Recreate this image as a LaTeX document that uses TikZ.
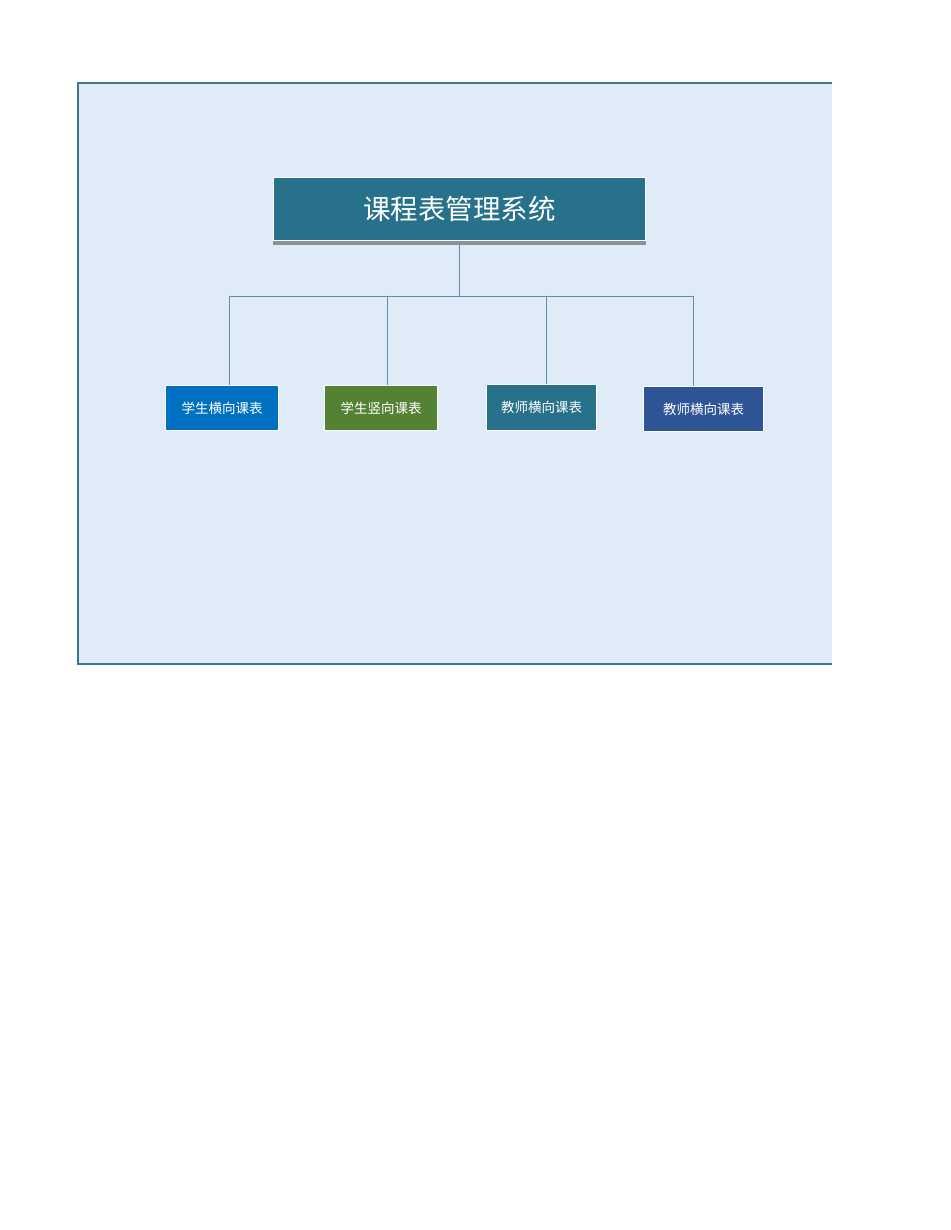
\documentclass[tikz,border=0pt]{standalone}
\usepackage{fontspec}
\newfontfamily\cjk{Noto Sans CJK SC}
\usetikzlibrary{positioning}
\definecolor{panelfill}{HTML}{DFEBF7}
\definecolor{panelline}{HTML}{3B7A8E}
\definecolor{linkline}{HTML}{5A8FB0}
\definecolor{titlefill}{HTML}{27718A}
\definecolor{shadowbar}{HTML}{8A939C}
\definecolor{bluefill}{HTML}{0070C0}
\definecolor{greenfill}{HTML}{548235}
\definecolor{tealfill}{HTML}{27718A}
\definecolor{navyfill}{HTML}{2F5597}
\tikzset{
	leaf/.style={draw=white,line width=1pt,text=white,inner sep=0pt,font=\cjk\fontsize{13.5}{16}\selectfont},
	link/.style={draw=linkline,line width=0.8pt}
}
\begin{document}
\begin{tikzpicture}[x=1pt,y=-1pt]
	\useasboundingbox (0,0) rectangle (950,1230);
	\fill[panelfill] (78,83) rectangle (832,664);
	\draw[panelline,line width=1.2pt] (832,83) -- (78,83) -- (78,664) -- (832,664);
	\fill[shadowbar] (273,241) rectangle (646,245);
	\node[draw=white,line width=1pt,fill=titlefill,text=white,minimum width=372pt,minimum height=63pt,font=\cjk\fontsize{27.5}{32}\selectfont] (title) at (459.5,209) {课程表管理系统};
	\node[leaf,fill=bluefill,minimum width=113pt,minimum height=45pt] (b1) at (222,408) {学生横向课表};
	\node[leaf,fill=greenfill,minimum width=113pt,minimum height=45pt] (b2) at (381,408) {学生竖向课表};
	\node[leaf,fill=tealfill,minimum width=110pt,minimum height=46pt] (b3) at (541.5,407.5) {教师横向课表};
	\node[leaf,fill=navyfill,minimum width=120pt,minimum height=45pt] (b4) at (703.5,409) {教师横向课表};
	\coordinate (hub) at (459.5,296);
	\coordinate (j1) at (229,296);
	\coordinate (j2) at (387,296);
	\coordinate (j3) at (546,296);
	\coordinate (j4) at (693,296);
	\draw[link] (459.5,245) -- (hub);
	\draw[link] (j1) -- (j4);
	\draw[link] (j1) -- (j1 |- b1.north);
	\draw[link] (j2) -- (j2 |- b2.north);
	\draw[link] (j3) -- (j3 |- b3.north);
	\draw[link] (j4) -- (j4 |- b4.north);
\end{tikzpicture}
\end{document}
